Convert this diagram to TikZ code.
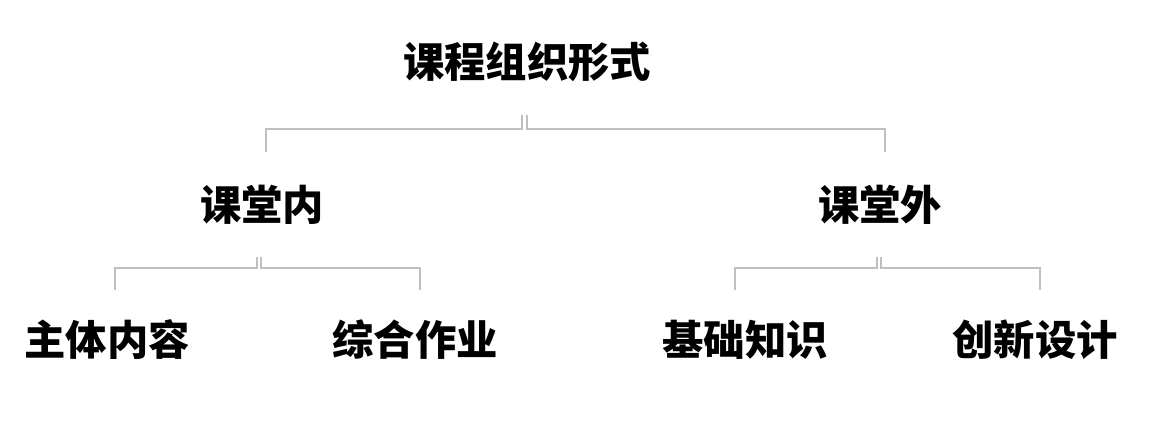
\documentclass[tikz,border=0pt]{standalone}
\usepackage{fontspec}
\newfontfamily\cjk{Noto Sans CJK SC}
\usepackage{tikz}

\tikzset{
  lbl/.style={font=\cjk\bfseries\fontsize{31}{31}\selectfont, inner sep=0pt},
  brace/.style={draw=black!25, line width=2.2pt}
}

\begin{document}
\begin{tikzpicture}[x=0.75pt, y=-0.75pt]
        \useasboundingbox (0,0) rectangle (1171,433);

        \node[lbl] (form) at (527, 62) {课程组织形式};
        \node[lbl] (in)   at (262,205) {课堂内};
        \node[lbl] (out)  at (880,205) {课堂外};
        \node[lbl] (main) at (107,340) {主体内容};
        \node[lbl] (work) at (415,340) {综合作业};
        \node[lbl] (base) at (745,340) {基础知识};
        \node[lbl] (new)  at (1035,340) {创新设计};

        % top level
        \draw[brace] (522,115) -- (522,129) -- (266,129) -- (266,152);
        \draw[brace] (527,115) -- (527,129) -- (885,129) -- (885,152);

        % left branch
        \draw[brace] (257,257) -- (257,268) -- (115,268) -- (115,290);
        \draw[brace] (261,257) -- (261,268) -- (420,268) -- (420,290);

        % right branch
        \draw[brace] (877,257) -- (877,268) -- (735,268) -- (735,290);
        \draw[brace] (881,257) -- (881,268) -- (1040,268) -- (1040,290);
    \end{tikzpicture}
\end{document}
